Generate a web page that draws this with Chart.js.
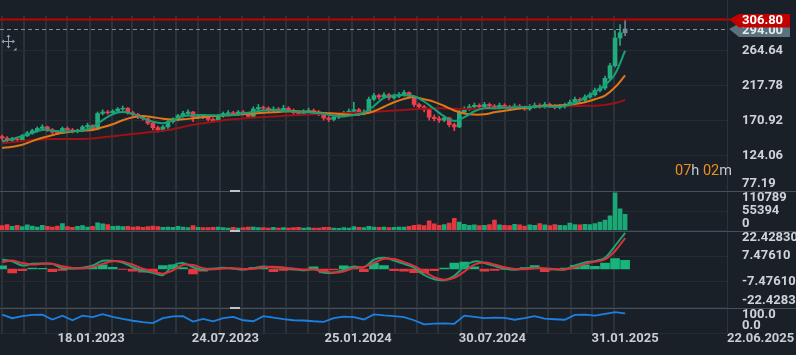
<!DOCTYPE html>
<html>
<head>
<meta charset="utf-8">
<title>Price chart</title>
<script src="https://cdn.jsdelivr.net/npm/chart.js@4.4.1/dist/chart.umd.min.js"></script>
<style>
  html, body { margin: 0; padding: 0; background: #1a2027; overflow: hidden; }
  canvas { display: block; }
</style>
</head>
<body>
<canvas id="chart" width="796" height="355" style="width:796px;height:355px"></canvas>
<script>
// ================= DATA =================
// weekly candles, first one in the week of this date
const firstCandleDate = '2022-09-16';

const opens = [150,148,145,147,146,151,155,158,161,163,
159,156,155,161,159,157,158,163,165,160,
181,183,182,184,187,188,182,180,176,174,
168,162,159,163,170,172,178,181,183,176,
177,176,173,171,178,181,182,180,183,181,
177,187,189,188,185,187,186,188,185,182,
181,184,185,183,181,175,173,176,178,182,
184,186,181,183,200,205,203,206,202,204,
206,209,204,193,190,186,176,174,172,175,
166,163,183,187,190,192,190,193,191,189,
192,190,188,191,189,187,190,192,190,193,
191,189,190,192,196,200,199,203,206,212,
215,228,245,282,289];

const closes = [148,145,147,146,151,155,158,161,163,159,
156,155,161,159,157,158,163,165,160,181,
183,182,184,187,188,182,180,176,174,168,
162,159,163,170,172,178,181,183,176,177,
176,173,171,178,181,182,180,183,181,177,
187,189,188,185,187,186,188,185,182,181,
184,185,183,181,175,173,176,178,182,184,
186,181,183,200,205,203,206,202,204,206,
209,204,193,190,186,176,174,172,175,166,
163,183,187,190,192,190,193,191,189,192,
190,188,191,189,187,190,192,190,193,191,
189,190,192,196,200,199,203,206,212,215,
228,245,282,289,294];

const highs = [152,150,149,149,153,157,160,163,166,164,
161,158,163,163,161,160,165,168,166,183,
186,185,186,189,191,189,184,181,178,175,
169,164,165,172,175,180,184,186,184,180,
179,178,175,180,183,185,184,185,185,182,
190,193,191,190,190,189,192,190,187,184,
186,188,187,185,182,177,178,181,184,187,
196,188,186,203,208,207,209,208,207,209,
212,210,205,195,192,187,179,177,178,176,
168,185,190,193,195,194,196,195,193,195,
194,192,194,193,191,193,195,194,196,195,
193,193,195,199,203,202,206,209,215,219,
231,248,292,300,306.8];

const lows = [145,143,143,144,145,150,153,156,159,157,
154,153,154,157,155,155,157,161,158,159,
179,180,180,182,185,180,178,174,172,166,
159,156,157,161,168,171,176,179,170,174,
174,171,169,170,176,179,178,178,179,174,
176,185,186,183,183,184,184,183,179,178,
179,182,181,178,172,170,171,174,177,180,
182,178,179,182,198,200,201,199,200,202,
204,201,190,187,183,172,171,169,170,163,
158,162,181,185,188,188,188,189,187,187,
188,186,186,187,185,185,188,188,188,189,
187,187,188,190,194,196,197,201,204,210,
213,226,243,272,285];

const volumes = [14000,17000,12000,15000,11000,16000,13000,10000,15000,12000,
10000,13000,20000,11000,9000,12000,14000,10000,12000,22000,
19000,17000,12000,13000,11000,12000,10000,11000,9000,11000,
13000,11000,9000,10000,9000,12000,10000,8000,14000,9000,
8000,8000,9000,10000,8000,7000,9000,7000,8000,10000,
10000,8000,8000,7000,9000,7000,8000,7000,8000,9000,
7000,8000,7000,7000,9000,9000,7000,6000,8000,7000,
11000,9000,8000,12000,10000,9000,10000,8000,9000,10000,
10000,12000,15000,16000,14000,28000,19000,15000,17000,21000,
35000,24000,18000,15000,16000,14000,15000,17000,30000,16000,
15000,14000,18000,16000,13000,16000,15000,20000,16000,14000,
17000,15000,14000,21000,17000,16000,18000,17000,20000,24000,
30000,42000,108000,62000,46000];

// indicator values, one per two candles
const maFast = [143.5,147,151,155,159,158,157,157,158,163,
172,180,183,180.5,175,170,168,172,177.5,178.5,
179,178.5,178.5,179,181,183.4,185,185.5,184.5,183.5,
183,182,180.5,178,177,179,182,191,202,205,
205.5,204,197,187,177,171,176,184,188,188,
188.5,189,189.5,190,190.5,190,191,195,202,210,
219,234,265];

const maMid = [134.8,136.5,139,144,148.5,152,155,157,158,159,
162.5,166.5,172,176,177.5,176,174,173,173.2,174.5,
176,177.5,178.2,179,180,181,182,182.5,183.5,184.2,
183.5,182.5,181.5,181,180,179,180.5,184,190,196,
200.5,203,200,196.5,191,185,181,179.5,180,182.5,
184.5,186.5,188.5,190,191,191.5,192.5,193.5,196,200,
205,216,232];

const maSlow = [141,142.5,144,145.5,146.2,146.8,146.8,146.8,146.8,147.5,
149,150.5,152,153.5,155,156.5,158,160,163,166,
168,170,172,173.2,174.3,175.3,176.3,177,177.8,178.5,
179.2,179.9,180.5,181.2,181.4,181.7,182,183,184,185,
185.8,186.5,187.3,188,187.7,187.3,187,187.3,187.6,188,
188.5,189,189.6,190.1,190.4,190.7,191,191.1,191.2,191.4,
192.5,195,199];

const macdLine = [5.5,4.5,2.0,3.0,3.2,3.0,0.5,0.3,0.7,2.0,
4.8,4.8,3.8,1.0,-1.0,-2.2,-3.5,2.0,3.5,1.0,
-0.5,0.0,0.7,0.3,-0.3,0.5,1.5,1.0,0.7,-0.2,
-0.8,0.0,-2.0,-2.2,-0.5,1.5,1.0,5.4,6.5,5.0,
3.0,0.8,-3.5,-6.0,-6.5,-4.0,1.5,4.4,3.5,1.8,
0.3,-0.4,0.2,0.7,0.2,-0.2,-0.3,2.0,3.8,4.6,
6.5,13.5,21.0];

const signalLine = [4.0,5.0,3.5,2.6,3.0,3.1,1.6,0.6,0.5,1.2,
3.0,4.5,4.3,2.5,0.2,-1.5,-2.7,-0.8,2.4,2.3,
0.5,-0.2,0.4,0.5,0.0,0.1,1.0,1.3,0.9,0.3,
-0.4,-0.3,-1.2,-2.1,-1.4,0.5,1.2,3.5,6.0,5.8,
4.0,1.8,-1.5,-4.8,-6.3,-5.2,-1.5,2.5,3.8,2.6,
1.0,0.0,-0.1,0.5,0.5,0.0,-0.3,1.0,3.0,4.2,
5.6,10.5,18.0];

const macdHist = [1.8,-2.3,-1.0,0.5,0.4,-1.5,-0.9,0.3,1.0,1.0,
2.5,1.0,-0.3,-1.2,-1.8,-1.5,2.0,2.5,0.8,-2.8,
-1.2,0.6,1.0,0.4,-0.5,0.8,1.2,-1.6,-0.8,-0.5,
-0.7,1.2,-2.3,-0.6,1.8,1.2,-1.5,3.5,2.0,-1.0,
-1.2,-2.2,-2.4,-1.0,0.6,3.5,4.0,1.2,-1.2,-0.8,
-0.3,0.3,0.8,2.0,-1.6,-0.5,0.5,2.2,2.4,1.5,
3.5,6.0,5.0];

const oscillator = [72,58,66,71,72,53,68,50,68,62,
74,63,55,48,43,39,58,65,66,45,
55,46,58,63,50,46,66,60,54,50,
49,46,44,58,64,62,53,73,69,66,
62,50,34,37,38,36,68,63,58,60,
59,52,58,66,56,54,52,71,72,68,
75,82,77];

// axis labels
const dateLabels = ['18.01.2023','24.07.2023','25.01.2024','30.07.2024','31.01.2025','22.06.2025'];
const priceTicks = ['264.64','217.78','170.92','124.06','77.19'];
const volumeTicks = ['110789','55394','0'];
const macdTicks = ['22.42830','7.47610','-7.47610','-22.4283'];
const oscTicks = ['100.0','0.0'];
const highPrice = 306.80;
const lastPrice = 294.00;
const countdownText = '07h 02m';

// ================= LAYOUT / STYLE =================
const DAY = 86400000;
const toDay = s => Date.parse(s + 'T00:00:00Z') / DAY;
const fromLabel = s => { const [d, m, y] = s.split('.'); return toDay(`${y}-${m}-${d}`); };
const xStart = toDay('2022-09-13');
const xEnd = fromLabel(dateLabels[dateLabels.length - 1]);
const firstDay = toDay(firstCandleDate);
const candleX = i => firstDay + 7 * i;
const indStep = 2;

const C = {
  up: '#22ab7d', down: '#ef3f4c', last: '#6f8592',
  volUp: '#1aa877', volDown: '#e5373f',
  maFast: '#17a078', maMid: '#e2771a', maSlow: '#9c1216',
  macd: '#17a476', signal: '#dd3038', histUp: '#18b47c', histDown: '#e8363f',
  osc: '#1c80e2', text: '#cfd3d8'
};

const nC = closes.length;
const candleCol = closes.map((c, i) => i === nC - 1 ? C.last : (c >= opens[i] ? C.up : C.down));
const volCol = closes.map((c, i) => c >= opens[i] ? C.volUp : C.volDown);

// monthly vertical grid positions (16th of each month while data exists)
const gridDays = [];
for (let y = 2022, m = 9; y < 2025 || (y === 2025 && m <= 1);) {
  gridDays.push(toDay(`${y}-${String(m).padStart(2, '0')}-16`));
  m++; if (m > 12) { m = 1; y++; }
}

const indPts = arr => arr.map((v, k) => ({ x: candleX(k * indStep), y: v }));

const datasets = [
  { type: 'line', label: 'MA fast', data: indPts(maFast), yAxisID: 'y', borderColor: C.maFast, borderWidth: 2, pointRadius: 0, tension: 0.35, order: 1 },
  { type: 'line', label: 'MA mid', data: indPts(maMid), yAxisID: 'y', borderColor: C.maMid, borderWidth: 2, pointRadius: 0, tension: 0.35, order: 2 },
  { type: 'line', label: 'MA slow', data: indPts(maSlow), yAxisID: 'y', borderColor: C.maSlow, borderWidth: 2, pointRadius: 0, tension: 0.35, order: 3 },
  { type: 'bar', label: 'bodies', data: closes.map((c, i) => ({ x: candleX(i), y: [opens[i], c] })), yAxisID: 'y',
    backgroundColor: candleCol, barThickness: 4, grouped: false, order: 4 },
  { type: 'bar', label: 'wicks', data: closes.map((c, i) => ({ x: candleX(i), y: [lows[i], highs[i]] })), yAxisID: 'y',
    backgroundColor: candleCol, barThickness: 1, grouped: false, order: 5 },
  { type: 'bar', label: 'volume', data: volumes.map((v, i) => ({ x: candleX(i), y: v })), yAxisID: 'yVol',
    backgroundColor: volCol, barThickness: 4, grouped: false, order: 6 },
  { type: 'line', label: 'signal', data: indPts(signalLine), yAxisID: 'yMacd', borderColor: C.signal, borderWidth: 2, pointRadius: 0, tension: 0.3, order: 1 },
  { type: 'line', label: 'macd', data: indPts(macdLine), yAxisID: 'yMacd', borderColor: C.macd, borderWidth: 2, pointRadius: 0, tension: 0.3, order: 2 },
  { type: 'bar', label: 'hist', data: indPts(macdHist), yAxisID: 'yMacd',
    backgroundColor: macdHist.map(v => v >= 0 ? C.histUp : C.histDown), barThickness: 9, grouped: false, order: 7 },
  { type: 'line', label: 'osc', data: indPts(oscillator), yAxisID: 'yRsi', borderColor: C.osc, borderWidth: 1.8, pointRadius: 0, tension: 0, order: 1 }
];

const setTicks = list => scale => { scale.ticks = list.map(v => ({ value: Number(v) })); };
const hGrid = { color: '#252c34', lineWidth: 1, drawTicks: false };
const yBase = { type: 'linear', position: 'right', stack: 'panes', offset: false,
  ticks: { display: false }, border: { display: false }, grid: hGrid };

function line(ctx, x1, y1, x2, y2) { ctx.beginPath(); ctx.moveTo(x1, y1); ctx.lineTo(x2, y2); ctx.stroke(); }

const overlay = {
  id: 'overlay',
  afterDatasetsDraw(chart) {
    const { ctx, chartArea: ca, scales: s } = chart;
    ctx.save();
    const yl = Math.round(s.y.getPixelForValue(lastPrice)) + 0.5;
    ctx.strokeStyle = '#81929d'; ctx.lineWidth = 1; ctx.setLineDash([4, 3]);
    line(ctx, 0, yl, ca.right, yl);
    ctx.setLineDash([]);
    const yh = s.y.getPixelForValue(highPrice);
    ctx.strokeStyle = '#c40000'; ctx.lineWidth = 2;
    line(ctx, 0, yh, ca.right + 3, yh);
    ctx.restore();
  },
  afterDraw(chart) {
    const { ctx, chartArea: ca, scales: s } = chart;
    const W = chart.width;
    ctx.save();
    // right plot border
    ctx.strokeStyle = '#2c333b'; ctx.lineWidth = 1;
    line(ctx, ca.right + 0.5, 0, ca.right + 0.5, ca.bottom);
    // pane separators
    ctx.strokeStyle = '#474f58';
    const panes = [s.yVol, s.yMacd, s.yRsi];
    for (const sc of panes) { const y = Math.round(sc.top) + 0.5; line(ctx, 0, y, W, y); }
    ctx.fillStyle = '#bfc4c9';
    for (const sc of panes) ctx.fillRect(230, Math.round(sc.top) - 1, 10, 2);

    // right axis labels
    ctx.font = 'bold 13px Roboto, "DejaVu Sans", sans-serif';
    ctx.textBaseline = 'middle'; ctx.textAlign = 'left'; ctx.fillStyle = C.text;
    const lx = ca.right + 15;
    const put = (sc, txt) => {
      let y = sc.getPixelForValue(Number(txt));
      y = Math.max(sc.top + 7, Math.min(sc.bottom - 7, y));
      ctx.fillText(txt, lx, y);
    };
    priceTicks.forEach(t => put(s.y, t));
    volumeTicks.forEach(t => put(s.yVol, t));
    macdTicks.forEach(t => put(s.yMacd, t));
    oscTicks.forEach(t => put(s.yRsi, t));

    // price boxes
    const box = (y, txt, bg, fg) => {
      ctx.fillStyle = bg;
      ctx.beginPath();
      ctx.moveTo(ca.right + 2, y);
      ctx.lineTo(ca.right + 12, y - 5.5);
      ctx.lineTo(W - 6, y - 5.5);
      ctx.lineTo(W - 6, y + 8);
      ctx.lineTo(ca.right + 12, y + 8);
      ctx.closePath(); ctx.fill();
      ctx.fillStyle = fg; ctx.fillText(txt, lx, y + 1.5);
    };
    box(s.y.getPixelForValue(lastPrice), lastPrice.toFixed(2), '#5a717e', '#e3e8ec');
    box(s.y.getPixelForValue(highPrice), highPrice.toFixed(2), '#c20000', '#ffffff');

    // date labels
    ctx.fillStyle = '#c9cdd2';
    const ty = ca.bottom + 5.5;
    dateLabels.forEach(d => {
      const x = s.x.getPixelForValue(fromLabel(d));
      if (x >= ca.right - 1) { ctx.textAlign = 'left'; ctx.fillText(d, ca.right, ty); }
      else { ctx.textAlign = 'center'; ctx.fillText(d, x, ty); }
    });

    // countdown
    ctx.font = '14.5px Roboto, "DejaVu Sans", sans-serif';
    ctx.textAlign = 'left'; ctx.textBaseline = 'alphabetic';
    let cx = 675;
    for (const ch of countdownText) {
      ctx.fillStyle = /\d/.test(ch) ? '#ef8e1c' : '#c3c9cf';
      ctx.fillText(ch, cx, 175);
      cx += ctx.measureText(ch).width;
    }

    // move icon
    ctx.strokeStyle = '#93a1ab'; ctx.fillStyle = '#93a1ab'; ctx.lineWidth = 1;
    line(ctx, 2, 41.5, 14, 41.5); line(ctx, 8.5, 35, 8.5, 48);
    const tri = pts => { ctx.beginPath(); ctx.moveTo(...pts[0]); ctx.lineTo(...pts[1]); ctx.lineTo(...pts[2]); ctx.closePath(); ctx.fill(); };
    tri([[1.5, 41.5], [4, 39.5], [4, 43.5]]); tri([[15, 41.5], [12.5, 39.5], [12.5, 43.5]]);
    tri([[8.5, 34.5], [6.5, 37], [10.5, 37]]); tri([[8.5, 48.5], [6.5, 46], [10.5, 46]]);
    tri([[16.5, 47.5], [16.5, 50.5], [13.5, 50.5]]);
    ctx.restore();
  }
};

new Chart(document.getElementById('chart'), {
  type: 'bar',
  data: { datasets },
  plugins: [overlay],
  options: {
    responsive: false, animation: false, devicePixelRatio: 1, events: [],
    layout: { padding: { top: 16, right: 69, bottom: 22, left: 0 } },
    plugins: { legend: { display: false }, tooltip: { enabled: false } },
    scales: {
      x: { type: 'linear', min: xStart, max: xEnd, offset: false,
        afterBuildTicks: setTicks(gridDays),
        ticks: { display: false }, border: { display: false },
        grid: { color: '#2b323a', lineWidth: 2, drawTicks: false, offset: false } },
      y: Object.assign({}, yBase, { weight: 0, stackWeight: 175, min: 77.19, max: 311.5, afterBuildTicks: setTicks(priceTicks) }),
      yVol: Object.assign({}, yBase, { weight: 1, stackWeight: 39.5, min: 0, max: 113000, afterBuildTicks: setTicks(volumeTicks) }),
      yMacd: Object.assign({}, yBase, { weight: 2, stackWeight: 77, min: -22.4283, max: 22.4283, afterBuildTicks: setTicks(macdTicks) }),
      yRsi: Object.assign({}, yBase, { weight: 3, stackWeight: 25.5, min: 0, max: 100, afterBuildTicks: setTicks(oscTicks) })
    }
  }
});
</script>
</body>
</html>
